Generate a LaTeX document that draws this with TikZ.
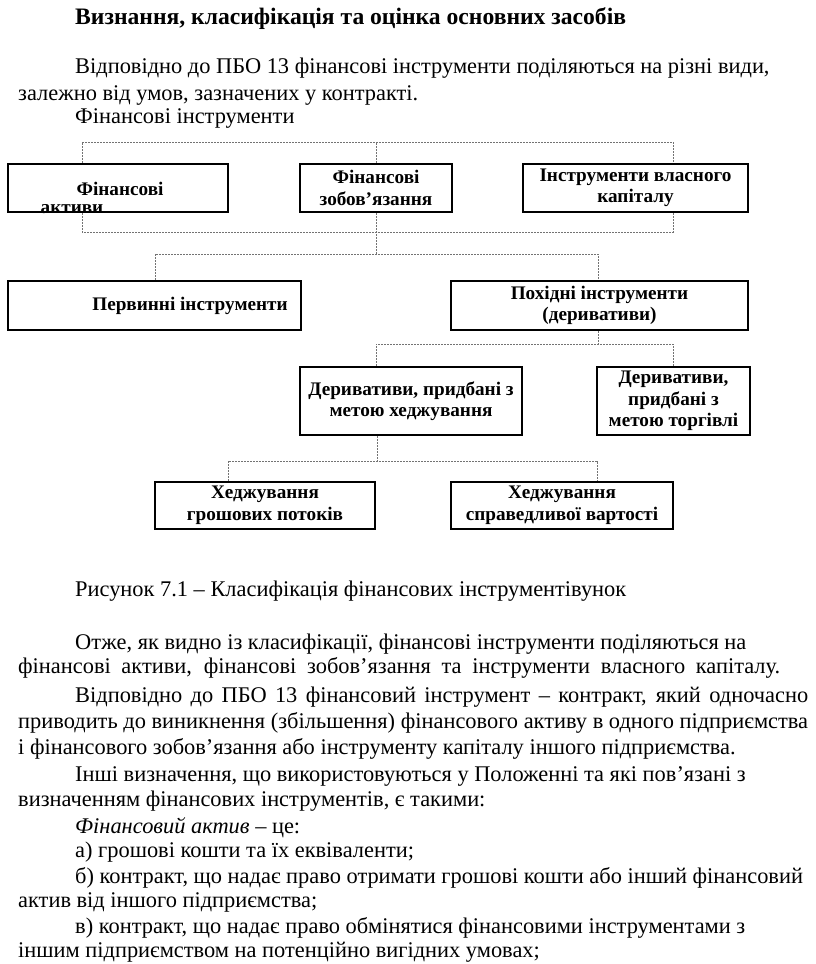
\documentclass[tikz,border=0pt]{standalone}
\usepackage{fontspec}
\setmainfont{Liberation Serif}
\begin{document}
\begin{tikzpicture}[x=1pt,y=-1pt,
  bx/.style={draw, line width=2.6pt, inner sep=0, minimum width=#1},
  dl/.style={draw=black!55, line width=0.9pt, dash pattern=on 2pt off 1pt},
  bt/.style={font=\fontsize{19.2}{21.5}\selectfont\bfseries, align=center, inner sep=0},
  body/.style={font=\fontsize{22.4}{26}\selectfont, anchor=base west, inner sep=0}]
\useasboundingbox[fill=white] (0,0) rectangle (816,964);

% text above
\node[body,font=\fontsize{23.6}{26}\selectfont\bfseries] (t0) at (75,24) {Визнання, класифікація та оцінка основних засобів};
\node[body] (t1) at (75,73) {Відповідно до ПБО 13 фінансові інструменти поділяються на різні види,};
\node[body] (t2) at (18,100) {залежно від умов, зазначених у контракті.};
\node[body] (t3) at (75,123) {Фінансові інструменти};

% boxes
\node[bx=220, minimum height=48] (a1) at (118,188) {};
\node[bt] (a1t) at (120,189) {Фінансові};
\begin{scope}
\clip (0,200) rectangle (240,214);
\node[bt] (a1u) at (72,209.5) {активи};
\end{scope}
\node[bx=152, minimum height=48, bt] (a2) at (376,188) {Фінансові\\зобов’язання};
\node[bx=225, minimum height=48, bt] (a3) at (635.5,188) {Інструменти власного\\капіталу};

\node[bx=293, minimum height=49] (b1) at (154.5,305.5) {};
\node[bt] (b1t) at (190,306) {Первинні інструменти};
\node[bx=297, minimum height=49, bt] (b2) at (599.5,305.5) {Похідні інструменти\\(деривативи)};

\node[bx=222, minimum height=68, bt] (c1) at (411,401) {Деривативи, придбані з\\метою хеджування};
\node[bx=153, minimum height=68, bt] (c2) at (673.5,401) {Деривативи,\\придбані з\\метою торгівлі};

\node[bx=220, minimum height=47, bt] (d1) at (265,505.5) {Хеджування\\грошових потоків};
\node[bx=222, minimum height=47, bt] (d2) at (562,505.5) {Хеджування\\справедливої вартості};

% connectors
\coordinate (p1) at (82,142);
\coordinate (p2) at (673,142);
\coordinate (q1) at (82,232);
\coordinate (q2) at (673,232);
\draw[dl] (a1.north -| p1) -- (p1) -- (p2) -- (a3.north -| p2);
\draw[dl] (a2.north) -- (a2.north |- p1);
\draw[dl] (a1.south -| q1) -- (q1) -- (q2) -- (a3.south -| q2);
\coordinate (r0) at (376,254);
\coordinate (r1) at (155,254);
\coordinate (r2) at (598,254);
\draw[dl] (a2.south) -- (r0);
\draw[dl] (b1.north -| r1) -- (r1) -- (r2) -- (b2.north -| r2);
\coordinate (s0) at (598,344);
\coordinate (s1) at (376,344);
\coordinate (s2) at (673,344);
\draw[dl] (b2.south -| s0) -- (s0);
\draw[dl] (c1.north -| s1) -- (s1) -- (s2) -- (c2.north -| s2);
\coordinate (u0) at (377,461);
\coordinate (u1) at (228,461);
\coordinate (u2) at (597,461);
\draw[dl] (c1.south -| u0) -- (u0);
\draw[dl] (d1.north -| u1) -- (u1) -- (u2) -- (d2.north -| u2);

% text below
\node[body] (c0) at (75,596) {Рисунок 7.1 – Класифікація фінансових інструментівунок};
\node[body] (l1) at (75,649) {Отже, як видно із класифікації, фінансові інструменти поділяються на};
\node[body] (l2) at (18,673) {\hbox to 762pt{фінансові активи, фінансові зобов’язання та інструменти власного капіталу.}};
\node[body] (l3) at (75,702) {\hbox to 733pt{Відповідно до ПБО 13 фінансовий інструмент – контракт, який одночасно}};
\node[body] (l4) at (18,728) {\hbox to 790pt{приводить до виникнення (збільшення) фінансового активу в одного підприємства}};
\node[body] (l5) at (18,754) {і фінансового зобов’язання або інструменту капіталу іншого підприємства.};
\node[body] (l6) at (75,781) {Інші визначення, що використовуються у Положенні та які пов’язані з};
\node[body] (l7) at (18,806) {визначенням фінансових інструментів, є такими:};
\node[body] (l8) at (75,833) {\textit{Фінансовий актив} – це:};
\node[body] (l9) at (75,857) {а) грошові кошти та їх еквіваленти;};
\node[body] (l10) at (75,883) {б) контракт, що надає право отримати грошові кошти або інший фінансовий};
\node[body] (l11) at (18,907) {актив від іншого підприємства;};
\node[body] (l12) at (75,933) {в) контракт, що надає право обмінятися фінансовими інструментами з};
\node[body] (l13) at (18,957) {іншим підприємством на потенційно вигідних умовах;};
\end{tikzpicture}
\end{document}
